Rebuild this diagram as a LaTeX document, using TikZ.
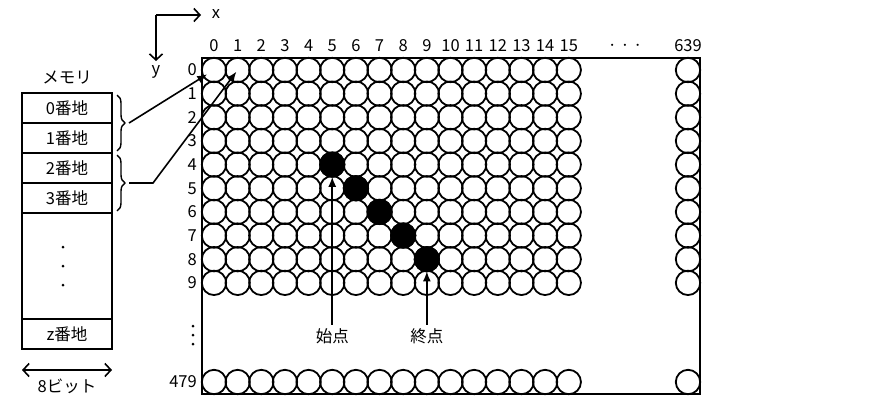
\documentclass[tikz,border=0pt]{standalone}
\usepackage{fontspec}
\setmainfont{Noto Sans CJK JP}
\usetikzlibrary{positioning,arrows.meta,decorations.pathreplacing}

\tikzset{
  pixel/.style={circle,draw,line width=1.8pt,minimum size=24.4pt,inner sep=0pt,outer sep=0pt},
  cell/.style={draw,line width=1.4pt,minimum width=90pt,minimum height=30pt,inner sep=0pt,outer sep=0pt},
  axis/.style={line width=1.6pt,-{Straight Barb[length=6pt,width=13pt]}},
  span/.style={line width=1.6pt,{Straight Barb[length=6pt,width=13pt]}-{Straight Barb[length=6pt,width=13pt]}},
  pointer/.style={line width=1.6pt,-{Latex[length=10pt,width=8pt]}},
  curly/.style={decorate,decoration={brace,amplitude=8pt},line width=1.4pt}
}

\begin{document}
\begin{tikzpicture}[x=1pt,y=-1pt,font=\fontsize{16.5}{18}\selectfont]
  \useasboundingbox (0,0) rectangle (894,410);

  % axes
  \coordinate (origin) at (156,15);
  \coordinate (xend) at (201,15);
  \coordinate (yend) at (156,61);
  \draw[axis] (origin) -- (xend);
  \draw[axis] (origin) -- (yend);
  \node (xlabel) at (216,14) {x};
  \node (ylabel) at (156,72) {y};

  % screen
  \foreach \c in {0,...,15} {
    \node (col-\c) at ({214+23.65*\c},46) {\c};
    \node[pixel] (c-\c-479) at ({214+23.65*\c},382) {};
    \foreach \r in {0,...,9}
      \node[pixel] (c-\c-\r) at ({214+23.65*\c},{70+23.65*\r}) {};
  }
  \foreach \r in {0,...,9} {
    \node[anchor=east,inner sep=0pt] (row-\r) at (197,{70+23.65*\r}) {\r};
    \node[pixel] (c-639-\r) at (688,{70+23.65*\r}) {};
  }
  \node[pixel] (c-639-479) at (688,382) {};
  \node[anchor=east,inner sep=0pt] (row-479) at (197,382) {479};
  \node (col-639) at (688,46) {639};
  \node[font=\fontsize{22}{24}\selectfont] (col-dots) at (625,46) {$\cdot\mkern2mu\cdot\mkern2mu\cdot$};
  \foreach \y in {326,335,344}
    \fill (193,\y) circle (1.5pt);

  \draw[line width=1.5pt] (c-0-0.west |- c-0-0.north) rectangle (c-639-479.east |- c-639-479.south);

  \foreach \c/\r in {5/4,6/5,7/6,8/7,9/8}
    \filldraw[line width=1.8pt] (c-\c-\r.center) circle (12.2pt);

  \node (start) at ({214+23.65*5},336) {始点};
  \node (goal) at ({214+23.65*9},336) {終点};
  \draw[pointer] (start) -- (c-5-4);
  \draw[pointer] (goal) -- (c-9-8);

  % memory
  \node (memlabel) at (67,78) {メモリ};
  \node[cell] (m0) at (67,108) {0番地};
  \node[cell,below=0pt of m0] (m1) {1番地};
  \node[cell,below=0pt of m1] (m2) {2番地};
  \node[cell,below=0pt of m2] (m3) {3番地};
  \node[cell,below=0pt of m3,minimum height=106pt] (mdots) {};
  \node[cell,below=0pt of mdots] (mz) {z番地};
  \foreach \y in {247,266,285}
    \fill (63,\y) circle (1.5pt);

  \draw[curly] ([xshift=5pt,yshift=-2pt]m0.north east) -- ([xshift=5pt,yshift=2pt]m1.south east);
  \draw[curly] ([xshift=5pt,yshift=-2pt]m2.north east) -- ([xshift=5pt,yshift=2pt]m3.south east);
  \coordinate (b1) at ([xshift=17pt]m0.south east);
  \coordinate (b2) at ([xshift=17pt]m2.south east);
  \coordinate (bend) at ([xshift=24pt]b2);
  \draw[pointer,shorten >=8pt] (b1) -- (c-0-0.center);
  \draw[pointer,shorten >=2pt] (b2) -- (bend) -- (c-1-0.center);

  \coordinate[below=21pt of mz.south west] (w0);
  \coordinate[below=21pt of mz.south east] (w1);
  \draw[span] (w0) -- (w1);
  \node (width) at (67,386) {8ビット};
\end{tikzpicture}
\end{document}
